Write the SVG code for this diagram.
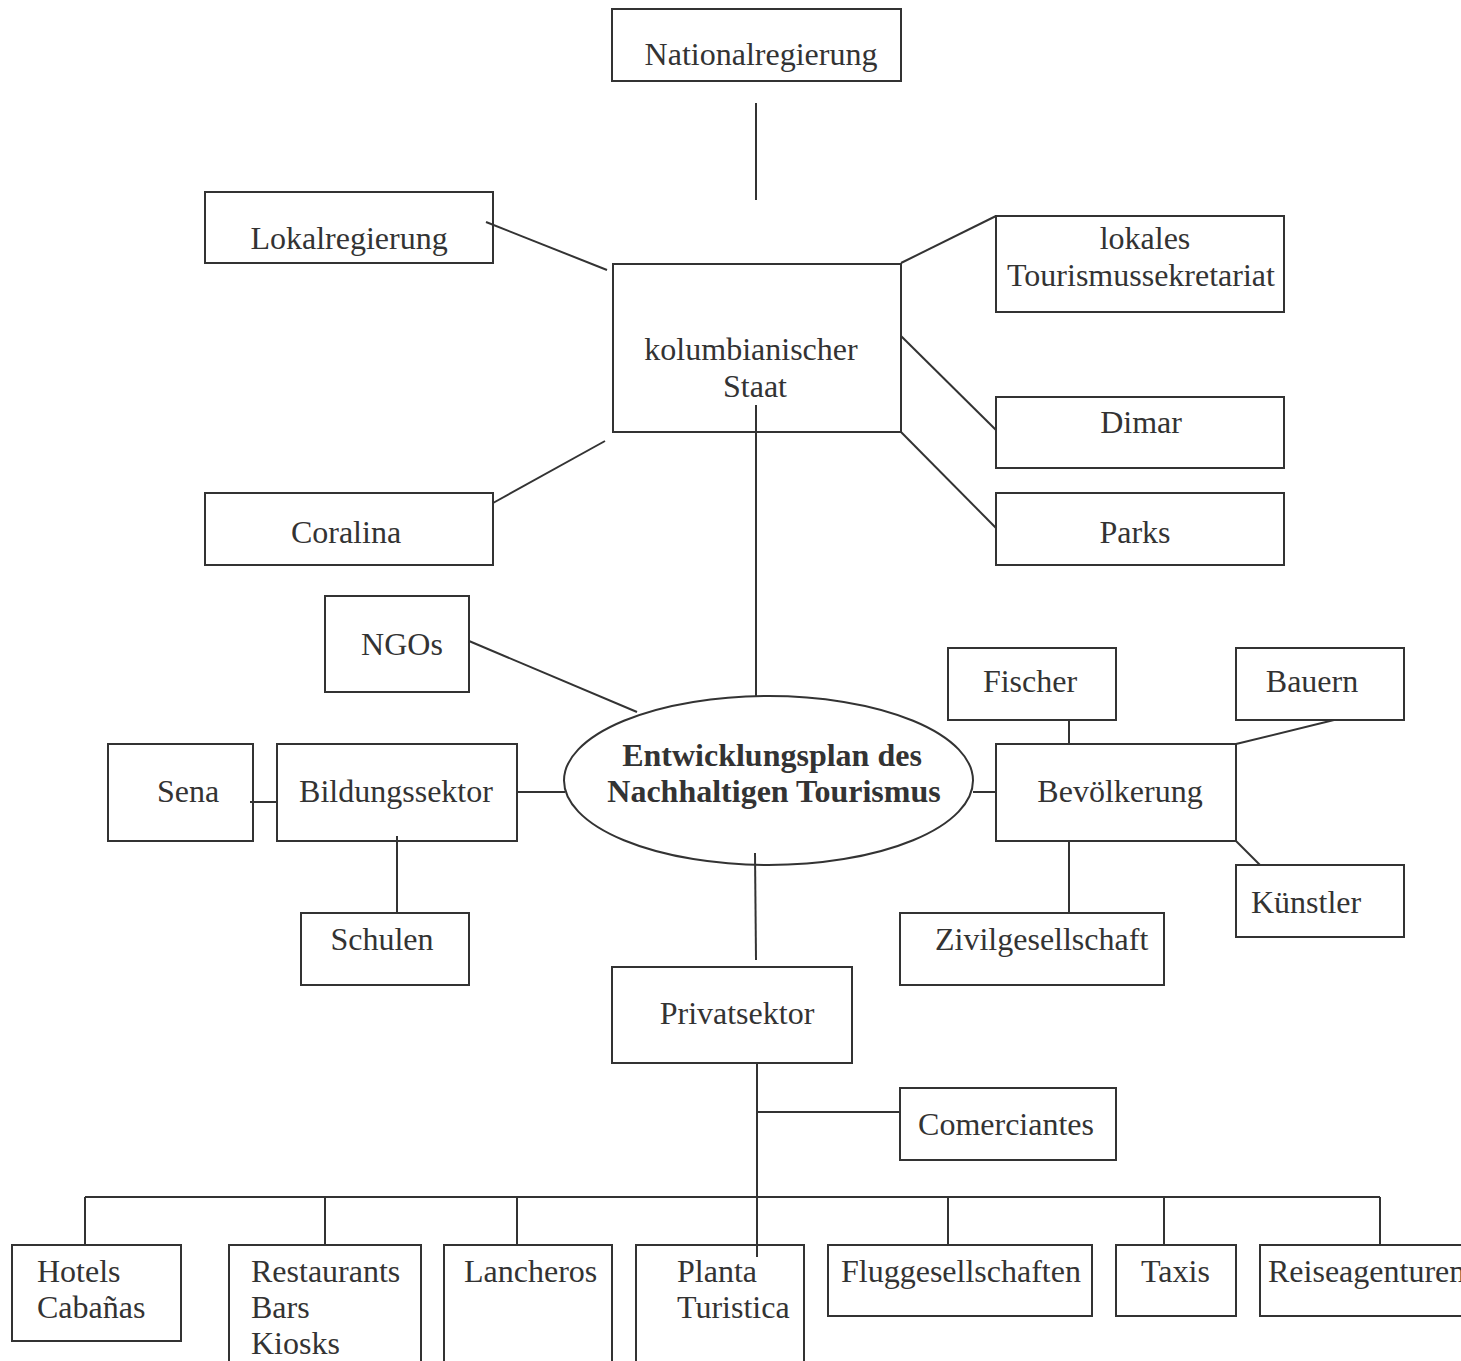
<svg xmlns="http://www.w3.org/2000/svg" width="1461" height="1361" viewBox="0 0 1461 1361">
<style>
.n{fill:#fff;stroke:#333;stroke-width:2}
line,path{stroke:#333;stroke-width:2;fill:none}
text{font-family:"Liberation Serif","Times New Roman",serif;font-size:32px;fill:#333}
.c{text-anchor:middle}
.b{font-weight:bold}
</style>
<rect width="1461" height="1361" fill="#fff"/>
<g id="national"><rect class="n" x="612" y="9" width="289" height="72"/><text class="c" x="761" y="65">Nationalregierung</text></g>
<g id="lokalregierung"><rect class="n" x="205" y="192" width="288" height="71"/><text class="c" x="349" y="249">Lokalregierung</text></g>
<g id="staat"><rect class="n" x="613" y="264" width="288" height="168"/><text class="c" x="751" y="360">kolumbianischer</text><text class="c" x="755" y="397">Staat</text></g>
<g id="tourismussekretariat"><rect class="n" x="996" y="216" width="288" height="96"/><text class="c" x="1145" y="249">lokales</text><text class="c" x="1141" y="286">Tourismussekretariat</text></g>
<g id="dimar"><rect class="n" x="996" y="397" width="288" height="71"/><text class="c" x="1141" y="433">Dimar</text></g>
<g id="parks"><rect class="n" x="996" y="493" width="288" height="72"/><text class="c" x="1135" y="543">Parks</text></g>
<g id="coralina"><rect class="n" x="205" y="493" width="288" height="72"/><text class="c" x="346" y="543">Coralina</text></g>
<g id="ngos"><rect class="n" x="325" y="596" width="144" height="96"/><text class="c" x="402" y="655">NGOs</text></g>
<g id="sena"><rect class="n" x="108" y="744" width="145" height="97"/><text class="c" x="188" y="802">Sena</text></g>
<g id="bildung"><rect class="n" x="277" y="744" width="240" height="97"/><text class="c" x="396" y="802">Bildungssektor</text></g>
<g id="schulen"><rect class="n" x="301" y="913" width="168" height="72"/><text class="c" x="382" y="950">Schulen</text></g>
<g id="plan"><ellipse class="n" cx="768.5" cy="780.5" rx="204.5" ry="84.5"/><text class="c b" x="772" y="766">Entwicklungsplan des</text><text class="c b" x="774" y="802">Nachhaltigen Tourismus</text></g>
<g id="fischer"><rect class="n" x="948" y="648" width="168" height="72"/><text class="c" x="1030" y="692">Fischer</text></g>
<g id="bauern"><rect class="n" x="1236" y="648" width="168" height="72"/><text class="c" x="1312" y="692">Bauern</text></g>
<g id="bevoelkerung"><rect class="n" x="996" y="744" width="240" height="97"/><text class="c" x="1120" y="802">Bevölkerung</text></g>
<g id="kuenstler"><rect class="n" x="1236" y="865" width="168" height="72"/><text x="1251" y="913">Künstler</text></g>
<g id="zivil"><rect class="n" x="900" y="913" width="264" height="72"/><text x="935" y="950">Zivilgesellschaft</text></g>
<g id="privat"><rect class="n" x="612" y="967" width="240" height="96"/><text class="c" x="737" y="1024">Privatsektor</text></g>
<g id="comerciantes"><rect class="n" x="900" y="1088" width="216" height="72"/><text class="c" x="1006" y="1135">Comerciantes</text></g>
<g id="hotels"><rect class="n" x="12" y="1245" width="169" height="96"/><text x="37" y="1282">Hotels</text><text x="37" y="1318">Cabañas</text></g>
<g id="restaurants"><path d="M229 1370V1245H421V1370"/><text x="251" y="1282">Restaurants</text><text x="251" y="1318">Bars</text><text x="251" y="1354">Kiosks</text></g>
<g id="lancheros"><path d="M444 1370V1245H612V1370"/><text x="464" y="1282">Lancheros</text></g>
<g id="planta"><path d="M636 1370V1245H804V1370"/><text x="677" y="1282">Planta</text><text x="677" y="1318">Turistica</text></g>
<g id="flug"><rect class="n" x="828" y="1245" width="264" height="71"/><text x="841" y="1282">Fluggesellschaften</text></g>
<g id="taxis"><rect class="n" x="1116" y="1245" width="120" height="71"/><text x="1141" y="1282">Taxis</text></g>
<g id="reise"><path d="M1470 1245H1260V1316H1470"/><text x="1268" y="1282">Reiseagenturen</text></g>
<g id="connectors">
<line x1="756" y1="103" x2="756" y2="200"/>
<line x1="486" y1="222" x2="607" y2="270"/>
<line x1="493" y1="503" x2="605" y2="441"/>
<line x1="901" y1="263" x2="996" y2="216"/>
<line x1="901" y1="336" x2="996" y2="430"/>
<line x1="901" y1="432" x2="996" y2="528"/>
<line x1="756" y1="405" x2="756" y2="696"/>
<line x1="469" y1="641" x2="637" y2="712"/>
<line x1="250" y1="802" x2="277" y2="802"/>
<line x1="517" y1="792" x2="565" y2="792"/>
<line x1="397" y1="836" x2="397" y2="913"/>
<line x1="973" y1="792" x2="996" y2="792"/>
<line x1="1069" y1="720" x2="1069" y2="744"/>
<line x1="1236" y1="744" x2="1334" y2="720"/>
<line x1="1236" y1="841" x2="1260" y2="865"/>
<line x1="1069" y1="841" x2="1069" y2="913"/>
<line x1="755" y1="853" x2="756" y2="960"/>
<line x1="757" y1="1063" x2="757" y2="1257"/>
<line x1="757" y1="1112" x2="900" y2="1112"/>
<line x1="85" y1="1197" x2="1380" y2="1197"/>
<line x1="85" y1="1197" x2="85" y2="1245"/>
<line x1="325" y1="1197" x2="325" y2="1245"/>
<line x1="517" y1="1197" x2="517" y2="1245"/>
<line x1="948" y1="1197" x2="948" y2="1245"/>
<line x1="1164" y1="1197" x2="1164" y2="1245"/>
<line x1="1380" y1="1197" x2="1380" y2="1245"/>
</g>
</svg>
